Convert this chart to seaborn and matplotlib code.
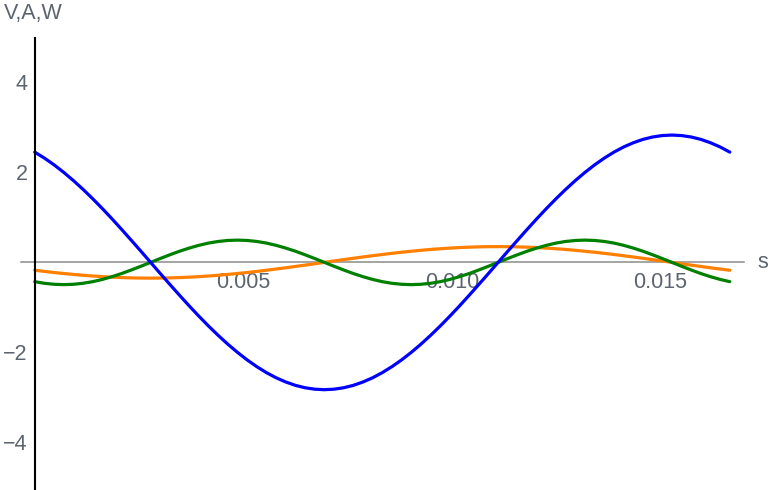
import matplotlib
matplotlib.use("Agg")
import matplotlib.pyplot as plt
import seaborn as sns
import pandas as pd
from matplotlib.ticker import FixedLocator, FixedFormatter

# time samples over one 60 Hz cycle (s)
t = [0.0, 0.0002315, 0.0004630, 0.0006944, 0.0009259, 0.0011574, 0.0013889,
     0.0016204, 0.0018519, 0.0020833, 0.0023148, 0.0025463, 0.0027778, 0.0030093,
     0.0032407, 0.0034722, 0.0037037, 0.0039352, 0.0041667, 0.0043981, 0.0046296,
     0.0048611, 0.0050926, 0.0053241, 0.0055556, 0.0057870, 0.0060185, 0.0062500,
     0.0064815, 0.0067130, 0.0069444, 0.0071759, 0.0074074, 0.0076389, 0.0078704,
     0.0081019, 0.0083333, 0.0085648, 0.0087963, 0.0090278, 0.0092593, 0.0094907,
     0.0097222, 0.0099537, 0.0101852, 0.0104167, 0.0106481, 0.0108796, 0.0111111,
     0.0113426, 0.0115741, 0.0118056, 0.0120370, 0.0122685, 0.0125000, 0.0127315,
     0.0129630, 0.0131944, 0.0134259, 0.0136574, 0.0138889, 0.0141204, 0.0143519,
     0.0145833, 0.0148148, 0.0150463, 0.0152778, 0.0155093, 0.0157407, 0.0159722,
     0.0162037, 0.0164352, 0.0166667]

# voltage (V)
voltage = [2.451, 2.318, 2.168, 2.001, 1.819, 1.623, 1.415, 1.196, 0.968, 0.732,
           0.491, 0.247, 0.0, -0.247, -0.491, -0.732, -0.968, -1.196, -1.415,
           -1.623, -1.819, -2.001, -2.168, -2.318, -2.451, -2.565, -2.659, -2.734,
           -2.787, -2.819, -2.830, -2.819, -2.787, -2.734, -2.659, -2.565, -2.451,
           -2.318, -2.168, -2.001, -1.819, -1.623, -1.415, -1.196, -0.968, -0.732,
           -0.491, -0.247, 0.0, 0.247, 0.491, 0.732, 0.968, 1.196, 1.415, 1.623,
           1.819, 2.001, 2.168, 2.318, 2.451, 2.565, 2.659, 2.734, 2.787, 2.819,
           2.830, 2.819, 2.787, 2.734, 2.659, 2.565, 2.451]

# current (A)
current = [-0.175, -0.201, -0.225, -0.247, -0.268, -0.287, -0.303, -0.317, -0.329,
           -0.338, -0.345, -0.349, -0.350, -0.349, -0.345, -0.338, -0.329, -0.317,
           -0.303, -0.287, -0.268, -0.247, -0.225, -0.201, -0.175, -0.148, -0.120,
           -0.091, -0.061, -0.031, 0.0, 0.031, 0.061, 0.091, 0.120, 0.148, 0.175,
           0.201, 0.225, 0.247, 0.268, 0.287, 0.303, 0.317, 0.329, 0.338, 0.345,
           0.349, 0.350, 0.349, 0.345, 0.338, 0.329, 0.317, 0.303, 0.287, 0.268,
           0.247, 0.225, 0.201, 0.175, 0.148, 0.120, 0.091, 0.061, 0.031, 0.0,
           -0.031, -0.061, -0.091, -0.120, -0.148, -0.175]

# instantaneous power (W)
power = [-0.429, -0.465, -0.487, -0.495, -0.487, -0.465, -0.429, -0.379, -0.318,
         -0.248, -0.169, -0.086, 0.0, 0.086, 0.169, 0.248, 0.318, 0.379, 0.429,
         0.465, 0.487, 0.495, 0.487, 0.465, 0.429, 0.379, 0.318, 0.248, 0.169,
         0.086, 0.0, -0.086, -0.169, -0.248, -0.318, -0.379, -0.429, -0.465,
         -0.487, -0.495, -0.487, -0.465, -0.429, -0.379, -0.318, -0.248, -0.169,
         -0.086, 0.0, 0.086, 0.169, 0.248, 0.318, 0.379, 0.429, 0.465, 0.487,
         0.495, 0.487, 0.465, 0.429, 0.379, 0.318, 0.248, 0.169, 0.086, 0.0,
         -0.086, -0.169, -0.248, -0.318, -0.379, -0.429]

x_major = [0.005, 0.010, 0.015]
x_major_labels = ["0.005", "0.010", "0.015"]
x_minor = [0.001, 0.002, 0.003, 0.004, 0.006, 0.007, 0.008, 0.009,
           0.011, 0.012, 0.013, 0.014, 0.016, 0.017]
y_major = [-4, -2, 2, 4]
y_major_labels = ["\u22124", "\u22122", "2", "4"]
y_minor = [-4.5, -3.5, -3, -2.5, -1.5, -1, -0.5, 0.5, 1, 1.5, 2.5, 3, 3.5, 4.5]

df = pd.DataFrame({"t": t, "V": voltage, "A": current, "W": power})

sns.set_theme(style="white")
plt.rcParams["font.family"] = ["Liberation Sans", "DejaVu Sans"]

fig = plt.figure(figsize=(7.7, 4.9), dpi=100)
ax = fig.add_axes([21 / 770, 0.0, (743.7 - 21) / 770, (490 - 37.9) / 490])

lw = 2.3
sns.lineplot(data=df, x="t", y="A", ax=ax, color="#ff8000", lw=lw,
             estimator=None, sort=False, zorder=3, solid_joinstyle="round")
sns.lineplot(data=df, x="t", y="W", ax=ax, color="#008000", lw=lw,
             estimator=None, sort=False, zorder=4, solid_joinstyle="round")
sns.lineplot(data=df, x="t", y="V", ax=ax, color="#0000ff", lw=lw,
             estimator=None, sort=False, zorder=5, solid_joinstyle="round")

ax.set_xlim(-0.00033, 0.01700)
ax.set_ylim(-5.06, 4.99)

# axes crossing at the origin
for side in ("top", "right"):
    ax.spines[side].set_visible(False)
ax.spines["left"].set_position(("data", 0))
ax.spines["bottom"].set_position(("data", 0))
ax.spines["left"].set_color("black")
ax.spines["left"].set_linewidth(1.5)
ax.spines["bottom"].set_color("#8c8c8c")
ax.spines["bottom"].set_linewidth(1.1)
ax.spines["left"].set_zorder(6)

label_color = "#5c6470"
ax.xaxis.set_major_locator(FixedLocator(x_major))
ax.xaxis.set_major_formatter(FixedFormatter(x_major_labels))
ax.xaxis.set_minor_locator(FixedLocator(x_minor))
ax.yaxis.set_major_locator(FixedLocator(y_major))
ax.yaxis.set_major_formatter(FixedFormatter(y_major_labels))
ax.yaxis.set_minor_locator(FixedLocator(y_minor))

ax.tick_params(axis="both", which="major", direction="in", length=4, width=1,
               color="#8c8c8c", labelsize=15.5, labelcolor=label_color)
ax.tick_params(axis="both", which="minor", direction="in", length=2.5, width=0.8,
               color="#9a9a9a")
ax.tick_params(axis="x", which="major", pad=7)
ax.tick_params(axis="y", which="major", pad=5)

ax.set_xlabel("")
ax.set_ylabel("")
ax.grid(False)

fig.text(4 / 770, 1 - 14 / 490, "V,A,W", fontsize=15.5, color=label_color,
         ha="left", va="center")
fig.text(757 / 770, 1 - 263 / 490, "s", fontsize=15.5, color=label_color,
         ha="left", va="center")

fig.savefig("out.png", dpi=100)
